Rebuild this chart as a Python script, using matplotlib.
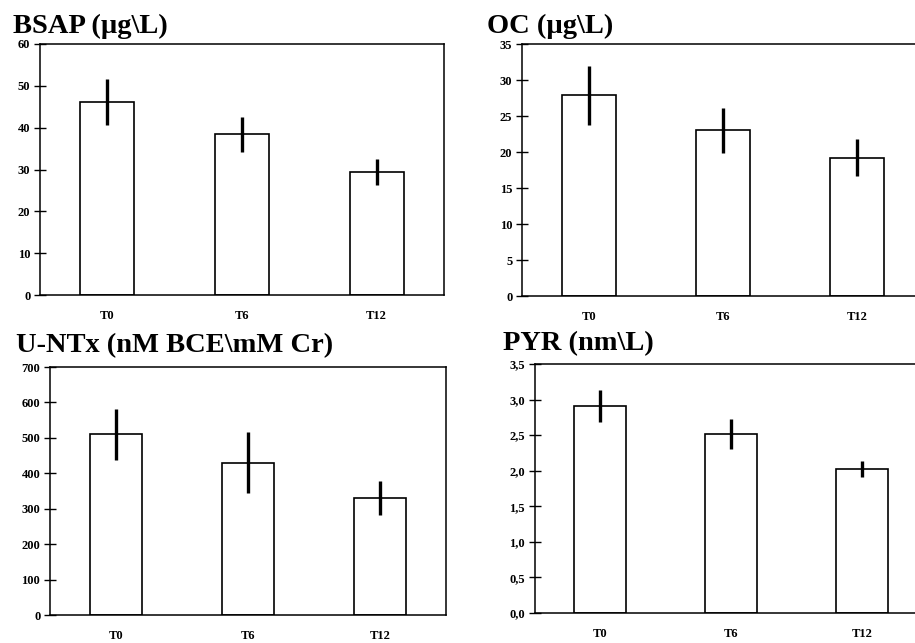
import matplotlib
matplotlib.use("Agg")
import matplotlib.pyplot as plt
from matplotlib.ticker import FixedLocator, FixedFormatter

categories = ["T0", "T6", "T12"]

bsap_mean = [46.2, 38.4, 29.4]
bsap_err = [5.5, 4.1, 3.2]
bsap_ticks = [0, 10, 20, 30, 40, 50, 60]
bsap_ticklabels = ["0", "10", "20", "30", "40", "50", "60"]

oc_mean = [27.9, 23.0, 19.2]
oc_err = [4.1, 3.1, 2.6]
oc_ticks = [0, 5, 10, 15, 20, 25, 30, 35]
oc_ticklabels = ["0", "5", "10", "15", "20", "25", "30", "35"]

ntx_mean = [510, 430, 330]
ntx_err = [72, 86, 47]
ntx_ticks = [0, 100, 200, 300, 400, 500, 600, 700]
ntx_ticklabels = ["0", "100", "200", "300", "400", "500", "600", "700"]

pyr_mean = [2.91, 2.51, 2.02]
pyr_err = [0.22, 0.21, 0.11]
pyr_ticks = [0.0, 0.5, 1.0, 1.5, 2.0, 2.5, 3.0, 3.5]
pyr_ticklabels = ["0,0", "0,5", "1,0", "1,5", "2,0", "2,5", "3,0", "3,5"]

titles = ["BSAP (µg\\L)", "OC (µg\\L)", "U-NTx (nM BCE\\mM Cr)", "PYR (nm\\L)"]

W, H = 915, 643
fig = plt.figure(figsize=(W / 100, H / 100), dpi=100)
fig.patch.set_facecolor("white")

serif = ["Liberation Serif", "DejaVu Serif"]

def px_axes(left, top, right, bottom):
    return fig.add_axes([left / W, 1 - bottom / H, (right - left) / W, (bottom - top) / H])

panels = [
    (px_axes(40, 44, 444, 295), bsap_mean, bsap_err, bsap_ticks, bsap_ticklabels, 60, (13, 33), titles[0]),
    (px_axes(522, 44, 924, 296), oc_mean, oc_err, oc_ticks, oc_ticklabels, 35, (487, 33), titles[1]),
    (px_axes(50, 367, 446, 615), ntx_mean, ntx_err, ntx_ticks, ntx_ticklabels, 700, (16, 352), titles[2]),
    (px_axes(534.5, 364, 927.5, 613), pyr_mean, pyr_err, pyr_ticks, pyr_ticklabels, 3.5, (503, 350), titles[3]),
]

x = list(range(len(categories)))
for ax, mean, err, ticks, ticklabels, ymax, tpos, title in panels:
    ax.bar(x, mean, width=0.4, facecolor="white", edgecolor="black", linewidth=1.2, zorder=2)
    ax.errorbar(x, mean, yerr=err, fmt="none", ecolor="black", elinewidth=2.4, capsize=0, zorder=3)
    ax.set_xlim(-0.5, 2.5)
    ax.set_ylim(0, ymax)
    ax.yaxis.set_major_locator(FixedLocator(ticks))
    ax.yaxis.set_major_formatter(FixedFormatter(ticklabels))
    ax.set_xticks(x)
    ax.set_xticklabels(categories)
    for lab in ax.get_xticklabels() + ax.get_yticklabels():
        lab.set_fontfamily(serif)
        lab.set_fontweight("bold")
        lab.set_fontsize(9)
    ax.tick_params(axis="x", length=0, pad=11)
    ax.tick_params(axis="y", direction="inout", length=8, width=1, pad=3)
    for sp in ax.spines.values():
        sp.set_linewidth(1.1)
        sp.set_color("black")
    fig.text(tpos[0] / W, 1 - tpos[1] / H, title, fontfamily=serif, fontweight="bold",
             fontsize=20.5, ha="left", va="baseline")

fig.savefig("out.png", dpi=100, facecolor="white")
